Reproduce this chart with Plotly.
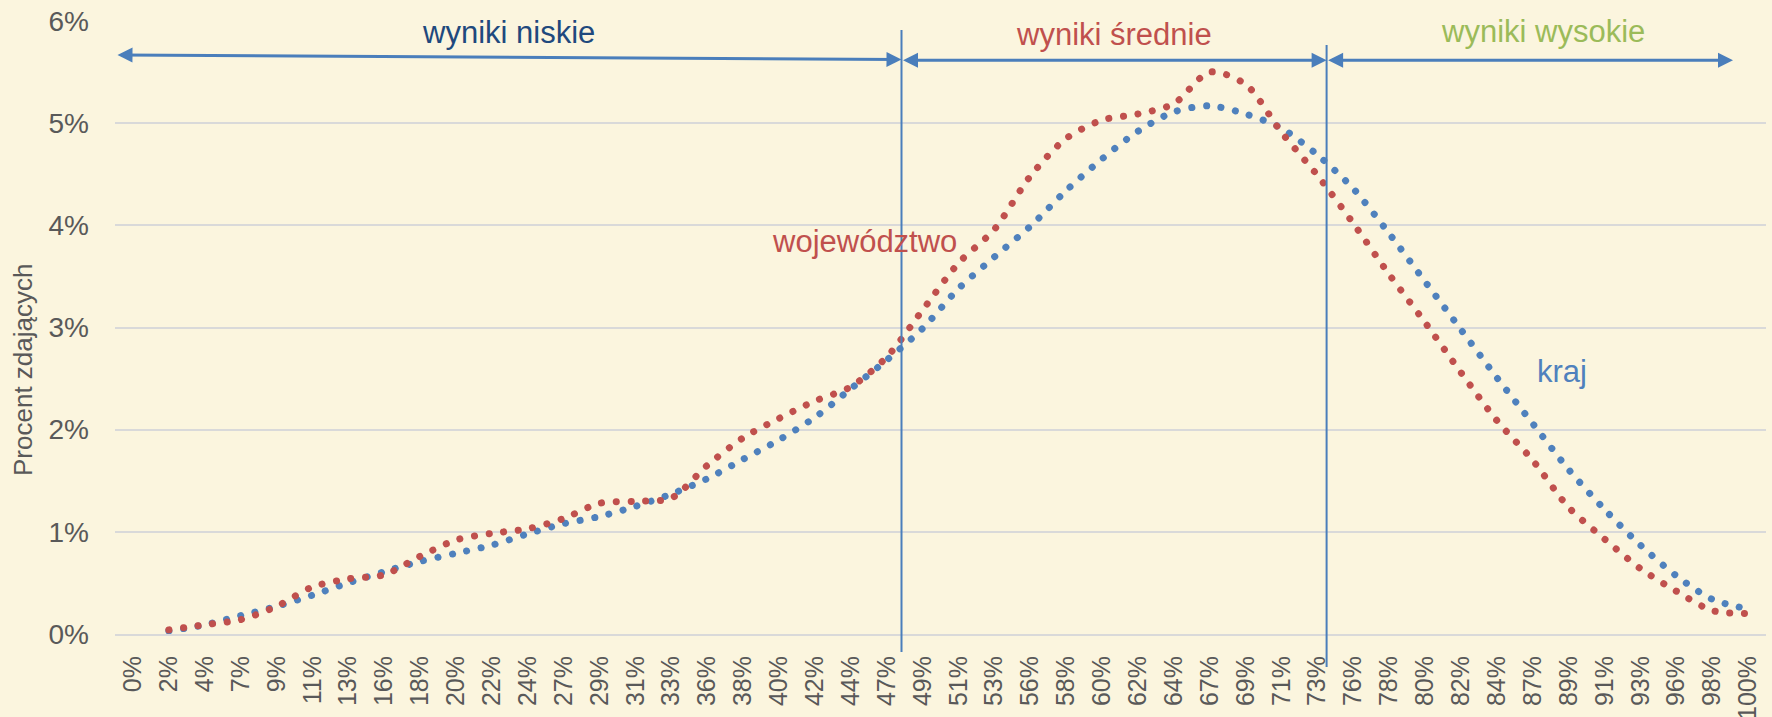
import plotly.graph_objects as go

# ---- data -------------------------------------------------------------
categories = ["0%", "2%", "4%", "7%", "9%", "11%", "13%", "16%", "18%", "20%",
              "22%", "24%", "27%", "29%", "31%", "33%", "36%", "38%", "40%", "42%",
              "44%", "47%", "49%", "51%", "53%", "56%", "58%", "60%", "62%", "64%",
              "67%", "69%", "71%", "73%", "76%", "78%", "80%", "82%", "84%", "87%",
              "89%", "91%", "93%", "96%", "98%", "100%"]

kraj = [None, 0.03, 0.09, 0.18, 0.27, 0.38, 0.50, 0.61, 0.71, 0.79,
        0.87, 0.98, 1.08, 1.15, 1.25, 1.37, 1.52, 1.71, 1.90, 2.12,
        2.40, 2.68, 2.99, 3.38, 3.69, 3.99, 4.34, 4.65, 4.92, 5.11,
        5.17, 5.09, 4.95, 4.69, 4.36, 3.92, 3.45, 2.98, 2.51, 2.06,
        1.61, 1.22, 0.87, 0.57, 0.34, 0.245]

wojewodztwo = [None, 0.04, 0.09, 0.14, 0.27, 0.46, 0.54, 0.58, 0.76, 0.92,
               0.985, 1.03, 1.13, 1.28, 1.30, 1.33, 1.65, 1.92, 2.11, 2.28,
               2.42, 2.71, 3.17, 3.63, 3.96, 4.48, 4.85, 5.03, 5.09, 5.19,
               5.50, 5.38, 4.91, 4.49, 4.02, 3.52, 3.05, 2.56, 2.09, 1.70,
               1.24, 0.93, 0.64, 0.42, 0.23, 0.20]

y_ticks = [0, 1, 2, 3, 4, 5, 6]
y_ticktext = ["0%", "1%", "2%", "3%", "4%", "5%", "6%"]
y_title = "Procent zdających"

# ---- layout geometry ----------------------------------------------------
W, H = 1772, 717
L, R, T, B = 115, 6, 21, 83
PW = W - L - R
PH = H - T - B
N = len(categories)


def px_x(px):
    """pixel x -> paper x"""
    return (px - L) / PW


def px_y(py):
    """pixel y -> paper y"""
    return (H - B - py) / PH


def dx(px):
    """pixel x -> data x (category index)"""
    return (px - L) / (PW / N) - 0.5


def dy(py):
    """pixel y -> data y (percent)"""
    return (H - B - py) / PH * 6


FONT = "Liberation Sans, Arial, sans-serif"
BLUE = "#4F81BD"
RED = "#C0504D"
GREEN = "#9BBB59"
NAVY = "#1F497D"
ARROW = "#4A7EBB"
GRAY = "#595959"
BG = "#FBF5DE"

x_idx = list(range(N))

fig = go.Figure()
fig.add_trace(go.Scatter(
    x=x_idx, y=kraj, mode="lines", name="kraj",
    line=dict(color=BLUE, width=7, dash="7px,7.6px", shape="spline", smoothing=0.8),
    connectgaps=False, hoverinfo="skip"))
fig.add_trace(go.Scatter(
    x=x_idx, y=wojewodztwo, mode="lines", name="województwo",
    line=dict(color=RED, width=7, dash="7px,7.6px", shape="spline", smoothing=0.8),
    connectgaps=False, hoverinfo="skip"))

annotations = []
# double headed arrows
for (x0, y0, x1, y1) in [(116, 55, 901.5, 59.5), (901.5, 60.3, 1326.6, 60.3), (1326.6, 60.3, 1733, 60.3)]:
    annotations.append(dict(
        x=dx(x1), y=dy(y1), ax=dx(x0), ay=dy(y0),
        xref="x", yref="y", axref="x", ayref="y",
        text="", showarrow=True, arrowside="end+start",
        arrowhead=2, startarrowhead=2, arrowsize=1, startarrowsize=1,
        arrowwidth=3, arrowcolor=ARROW))

labels = [
    ("wyniki niskie", 508, 33, NAVY),
    ("wyniki średnie", 1114, 34, RED),
    ("wyniki wysokie", 1543, 32, GREEN),
    ("województwo", 864, 241, RED),
    ("kraj", 1562, 372, BLUE),
]
for txt, px, py, col in labels:
    annotations.append(dict(
        x=px_x(px), y=px_y(py), xref="paper", yref="paper",
        text=txt, showarrow=False, xanchor="center", yanchor="middle",
        font=dict(family=FONT, size=31, color=col)))

# y-axis title (placed like the reference: below the axis centre)
annotations.append(dict(
    x=px_x(23), y=px_y(370), xref="paper", yref="paper",
    text=y_title, textangle=-90, showarrow=False,
    xanchor="center", yanchor="middle",
    font=dict(family=FONT, size=26, color=GRAY)))

shapes = []
for (xv, ytop, ybot) in [(901.5, 30, 652), (1326.6, 45, 667)]:
    shapes.append(dict(type="line", xref="paper", yref="paper",
                       x0=px_x(xv), x1=px_x(xv), y0=px_y(ybot), y1=px_y(ytop),
                       line=dict(color=ARROW, width=2), layer="above"))

fig.update_layout(
    width=W, height=H,
    margin=dict(l=L, r=R, t=T, b=B, autoexpand=False),
    paper_bgcolor=BG, plot_bgcolor=BG,
    showlegend=False,
    font=dict(family=FONT, color=GRAY),
    annotations=annotations,
    shapes=shapes,
    xaxis=dict(
        range=[-0.5, N - 0.5], tickmode="array", tickvals=x_idx, ticktext=categories,
        tickangle=-90, tickfont=dict(family=FONT, size=25, color=GRAY),
        showgrid=False, zeroline=False, showline=True, linecolor="#D9D9D9", linewidth=2,
        ticks="", ticklabelstandoff=10, automargin=False, fixedrange=True),
    yaxis=dict(
        range=[0, 6], tickmode="array", tickvals=y_ticks, ticktext=y_ticktext,
        tickfont=dict(family=FONT, size=28, color=GRAY),
        showgrid=True, gridcolor="#D9D9D9", gridwidth=2, zeroline=False,
        ticks="", ticklabelstandoff=25, automargin=False,
        fixedrange=True),
)

post = """
document.documentElement.style.margin = '0';
document.body.style.margin = '0';
document.body.style.overflow = 'hidden';
document.body.style.background = '#FBF5DE';
var gd = document.getElementById('{plot_id}');
gd.querySelectorAll('.scatterlayer path.js-line').forEach(function(p){
  p.style.strokeLinecap = 'round';
  p.style.strokeDasharray = '0.1px,14.6px';
});
"""

fig.write_html("out.html", post_script=post, config={"displayModeBar": False})
